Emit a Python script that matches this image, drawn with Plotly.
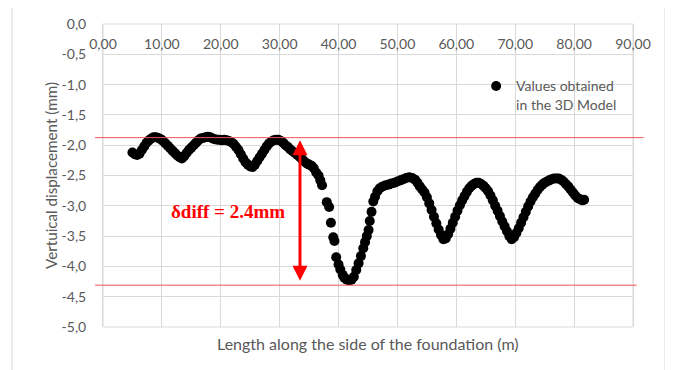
import plotly.graph_objects as go

# ---- data ----
length_m = [
    5.0, 5.4, 5.8, 6.2, 6.6, 7.0, 7.4, 7.8, 8.2, 8.6, 9.0, 9.4, 9.8, 10.2, 10.6,
    11.0, 11.4, 11.8, 12.2, 12.6, 13.0, 13.4, 13.8, 14.2, 14.6, 15.0, 15.4, 15.8,
    16.2, 16.6, 17.0, 17.4, 17.8, 18.2, 18.6, 19.0, 19.4, 19.8, 20.2, 20.6, 21.0,
    21.4, 21.8, 22.2, 22.6, 23.0, 23.4, 23.8, 24.2, 24.6, 25.0, 25.4, 25.8, 26.2,
    26.6, 27.0, 27.4, 27.8, 28.2, 28.6, 29.0, 29.4, 29.8, 30.2, 30.6, 31.0, 31.4,
    31.8, 32.2, 32.6, 33.0, 33.4, 33.8, 34.2, 34.6, 35.0, 35.4, 35.8, 36.2, 36.6,
    36.9, 37.2, 38.0, 38.4, 38.7, 39.1, 39.3, 39.6, 40.0, 40.3, 40.7, 41.0, 41.4,
    41.8, 42.2, 42.6, 43.0, 43.4, 43.8, 44.2, 44.5, 44.8, 45.1, 45.3, 45.6, 45.9,
    46.2, 46.6, 47.0, 47.5, 48.0, 48.5, 49.0, 49.5, 50.0, 50.5, 51.0, 51.5, 52.0,
    52.5, 53.0, 53.4, 53.8, 54.2, 54.6, 55.0, 55.4, 55.8, 56.2, 56.6, 57.0, 57.4,
    57.8, 58.2, 58.6, 59.0, 59.4, 59.8, 60.2, 60.6, 61.0, 61.4, 61.8, 62.2, 62.6,
    63.0, 63.4, 63.8, 64.2, 64.6, 65.0, 65.4, 65.8, 66.2, 66.6, 67.0, 67.4, 67.8,
    68.2, 68.6, 69.0, 69.4, 69.8, 70.2, 70.6, 71.0, 71.4, 71.8, 72.2, 72.6, 73.0,
    73.4, 73.8, 74.2, 74.6, 75.0, 75.4, 75.8, 76.2, 76.6, 77.0, 77.4, 77.8, 78.2,
    78.6, 79.0, 79.4, 79.8, 80.2, 80.6, 81.0, 81.4, 81.7,
]
displacement_mm = [
    -2.12, -2.15, -2.16, -2.14, -2.08, -2.02, -1.96, -1.92, -1.89, -1.87, -1.87,
    -1.88, -1.90, -1.93, -1.97, -2.01, -2.05, -2.09, -2.13, -2.17, -2.20, -2.22,
    -2.18, -2.13, -2.08, -2.04, -2.00, -1.96, -1.92, -1.89, -1.88, -1.87, -1.86,
    -1.87, -1.89, -1.90, -1.91, -1.91, -1.92, -1.91, -1.92, -1.93, -1.95, -1.98,
    -2.03, -2.08, -2.15, -2.22, -2.28, -2.32, -2.35, -2.36, -2.32, -2.26, -2.20,
    -2.14, -2.08, -2.02, -1.97, -1.94, -1.92, -1.91, -1.91, -1.93, -1.96, -2.00,
    -2.03, -2.07, -2.10, -2.13, -2.16, -2.19, -2.23, -2.27, -2.30, -2.32, -2.34,
    -2.38, -2.45, -2.50, -2.58, -2.66, -2.94, -3.02, -3.28, -3.52, -3.58, -3.85,
    -3.97, -4.05, -4.14, -4.19, -4.22, -4.23, -4.22, -4.17, -4.06, -3.95, -3.83,
    -3.70, -3.60, -3.50, -3.40, -3.25, -3.10, -2.93, -2.85, -2.76, -2.71, -2.68,
    -2.66, -2.65, -2.63, -2.62, -2.60, -2.58, -2.56, -2.54, -2.53, -2.54, -2.57,
    -2.62, -2.68, -2.73, -2.78, -2.86, -2.96, -3.07, -3.18, -3.29, -3.39, -3.48,
    -3.55, -3.54, -3.47, -3.38, -3.28, -3.18, -3.08, -2.99, -2.91, -2.84, -2.77,
    -2.71, -2.67, -2.64, -2.62, -2.62, -2.64, -2.67, -2.71, -2.76, -2.83, -2.91,
    -3.00, -3.08, -3.17, -3.26, -3.34, -3.42, -3.50, -3.55, -3.52, -3.45, -3.37,
    -3.28, -3.19, -3.10, -3.01, -2.93, -2.86, -2.80, -2.74, -2.69, -2.65, -2.62,
    -2.60, -2.58, -2.56, -2.55, -2.55, -2.55, -2.57, -2.60, -2.64, -2.68, -2.73,
    -2.78, -2.83, -2.87, -2.89, -2.91, -2.90,
]
x_tick_vals = [0, 10, 20, 30, 40, 50, 60, 70, 80, 90]
x_tick_labels = ["0,00", "10,00", "20,00", "30,00", "40,00", "50,00",
                 "60,00", "70,00", "80,00", "90,00"]
y_tick_vals = [0, -0.5, -1, -1.5, -2, -2.5, -3, -3.5, -4, -4.5, -5]
y_tick_labels = ["0,0", "-0,5", "-1,0", "-1,5", "-2,0", "-2,5", "-3,0",
                 "-3,5", "-4,0", "-4,5", "-5,0"]
series_name = "Values obtained<br>in the 3D Model"
upper_level = -1.875
lower_level = -4.31
arrow_x = 33.45
arrow_top = -1.92
arrow_bottom = -4.26
diff_label = "<b>δdiff = 2.4mm</b>"
x_title = "Length along the side of the foundation (m)"
y_title = "Vertuical displacement (mm)"

GRID = "#d9d9d9"
TXT = "#595959"
FONT = "Lato"
RED_LINE = "#f25555"

fig = go.Figure()
fig.add_trace(go.Scatter(
    x=length_m, y=displacement_mm, mode="markers", name=series_name,
    marker=dict(color="black", size=10, line=dict(width=0)),
    showlegend=True,
))

# the page body adds an 8px offset, so margins are shifted by 8px up/left
fig.update_layout(
    template="none",
    width=673, height=370,
    margin=dict(l=95, r=48, t=16, b=51, autoexpand=False),
    paper_bgcolor="white", plot_bgcolor="white",
    font=dict(family=FONT, size=14, color=TXT),
    showlegend=True,
    legend=dict(x=0.704, y=0.847, xanchor="left", yanchor="top",
                bgcolor="rgba(0,0,0,0)", valign="top", borderwidth=0,
                font=dict(family=FONT, size=14, color=TXT),
                itemwidth=30, tracegroupgap=0),
    xaxis=dict(range=[0, 90], tickvals=x_tick_vals, ticktext=x_tick_labels,
               anchor="free", position=0.966, side="bottom", ticks="",
               showgrid=True, gridcolor=GRID, gridwidth=1,
               showline=False, zeroline=False, automargin=False,
               tickfont=dict(family=FONT, size=14, color=TXT)),
    yaxis=dict(range=[-5, 0], tickvals=y_tick_vals, ticktext=y_tick_labels,
               showgrid=True, gridcolor=GRID, gridwidth=1,
               showline=True, linecolor=GRID, mirror=True,
               zeroline=False, ticks="", automargin=False,
               ticklabelstandoff=13,
               title=dict(text=y_title, font=dict(family=FONT, size=15.2, color=TXT),
                          standoff=0),
               tickfont=dict(family=FONT, size=14, color=TXT)),
)

# plot-area frame
fig.add_shape(type="rect", xref="paper", yref="paper", x0=0, x1=1, y0=0, y1=1,
              line=dict(color=GRID, width=1), fillcolor="rgba(0,0,0,0)", layer="below")
# outer chart frame
fig.add_shape(type="rect", xref="paper", yref="paper",
              x0=-0.1717, x1=1.0604, y0=-0.2, y1=1.0617,
              line=dict(color=GRID, width=1), fillcolor="rgba(0,0,0,0)", layer="below")

# red reference levels
fig.add_shape(type="line", xref="paper", yref="y", x0=-0.015, x1=1.02,
              y0=upper_level, y1=upper_level, line=dict(color=RED_LINE, width=1))
fig.add_shape(type="line", xref="paper", yref="y", x0=-0.015, x1=1.007,
              y0=lower_level, y1=lower_level, line=dict(color=RED_LINE, width=1))

# double-headed arrow
fig.add_annotation(x=arrow_x, y=arrow_top, ax=arrow_x, ay=arrow_bottom,
                   xref="x", yref="y", axref="x", ayref="y", text="",
                   showarrow=True, arrowhead=2, startarrowhead=2,
                   arrowside="end+start", arrowsize=1, startarrowsize=1,
                   arrowwidth=3, arrowcolor="#ff0000")

fig.add_annotation(x=21.2, y=-3.10, xref="x", yref="y", text=diff_label,
                   showarrow=False,
                   font=dict(family="Liberation Serif", size=19, color="#ff0000"))

fig.add_annotation(x=0.5, y=-0.017, xref="paper", yref="paper", text=x_title,
                   showarrow=False, yanchor="top",
                   font=dict(family=FONT, size=16, color=TXT))

fig.write_html("out.html")
